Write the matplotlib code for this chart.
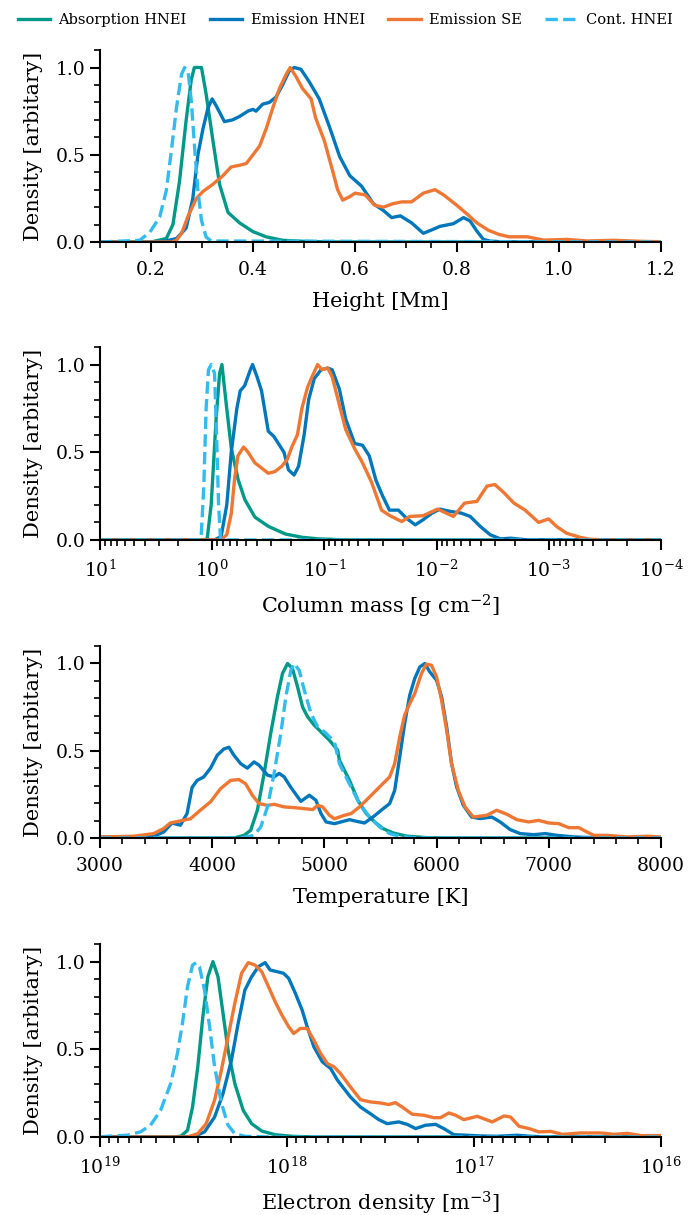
import numpy as np
import matplotlib.pyplot as plt
from matplotlib.ticker import MultipleLocator

plt.rcParams['font.family'] = ['DejaVu Serif']
plt.rcParams['mathtext.fontset'] = 'dejavuserif'

c_abs = '#009988'
c_emi = '#0077BB'
c_se = '#EE7733'
c_cont = '#33BBEE'

# ---- height [Mm] ----
h_abs_x = [0.10, 0.20, 0.230, 0.243, 0.256, 0.269, 0.279, 0.285, 0.299, 0.308, 0.3215, 0.3345, 0.351, 0.3736, 0.3997, 0.4257, 0.458, 0.50, 0.55, 1.2]
h_abs_y = [0, 0, 0.02, 0.10, 0.35, 0.70, 0.93, 1.0, 1.0, 0.85, 0.58, 0.33, 0.17, 0.11, 0.06, 0.03, 0.01, 0.004, 0, 0]
h_emi_x = [0.10, 0.22, 0.25, 0.269, 0.282, 0.292, 0.302, 0.312, 0.32, 0.328, 0.344, 0.36, 0.374, 0.39, 0.40, 0.406, 0.419, 0.432, 0.445, 0.458, 0.471, 0.481, 0.494, 0.51, 0.53, 0.55, 0.57, 0.59, 0.613, 0.636, 0.656, 0.672, 0.689, 0.711, 0.734, 0.751, 0.767, 0.793, 0.813, 0.826, 0.839, 0.852, 0.866, 0.90, 1.2]
h_emi_y = [0, 0, 0.02, 0.08, 0.25, 0.50, 0.65, 0.77, 0.82, 0.78, 0.69, 0.70, 0.72, 0.75, 0.76, 0.75, 0.79, 0.80, 0.83, 0.90, 0.98, 1.0, 0.99, 0.92, 0.82, 0.66, 0.49, 0.38, 0.32, 0.22, 0.18, 0.14, 0.15, 0.11, 0.05, 0.07, 0.09, 0.105, 0.14, 0.12, 0.063, 0.015, 0.005, 0, 0]
h_se_x = [0.10, 0.24, 0.25, 0.26, 0.273, 0.289, 0.302, 0.321, 0.341, 0.357, 0.374, 0.387, 0.40, 0.413, 0.426, 0.439, 0.452, 0.465, 0.473, 0.484, 0.497, 0.514, 0.523, 0.54, 0.556, 0.566, 0.576, 0.59, 0.60, 0.62, 0.639, 0.656, 0.675, 0.692, 0.711, 0.734, 0.757, 0.774, 0.80, 0.82, 0.839, 0.862, 0.882, 0.902, 0.938, 0.97, 1.016, 1.056, 1.108, 1.16, 1.2]
h_se_y = [0, 0, 0.01, 0.05, 0.15, 0.25, 0.29, 0.33, 0.38, 0.43, 0.44, 0.45, 0.50, 0.55, 0.65, 0.77, 0.88, 0.96, 1.0, 0.95, 0.88, 0.82, 0.71, 0.58, 0.41, 0.30, 0.24, 0.26, 0.28, 0.27, 0.21, 0.20, 0.22, 0.23, 0.23, 0.28, 0.30, 0.27, 0.21, 0.16, 0.11, 0.067, 0.044, 0.03, 0.03, 0.011, 0.015, 0.006, 0.01, 0.004, 0.002]
h_cont_x = [0.10, 0.178, 0.198, 0.217, 0.230, 0.240, 0.250, 0.260, 0.266, 0.273, 0.279, 0.286, 0.292, 0.299, 0.308, 0.318, 1.2]
h_cont_y = [0, 0.01, 0.057, 0.143, 0.295, 0.524, 0.771, 0.962, 1.0, 0.971, 0.81, 0.524, 0.295, 0.124, 0.029, 0.006, 0]

# ---- column mass, log10 [g cm^-2] ----
cm_abs_lg = [1, 0.1, 0.045, 0.009, -0.036, -0.066, -0.087, -0.126, -0.171, -0.231, -0.291, -0.381, -0.502, -0.652, -0.802, -0.952, -1.2, -4]
cm_abs_y = [0, 0, 0.004, 0.2, 0.7, 0.95, 1.0, 0.77, 0.52, 0.345, 0.23, 0.13, 0.077, 0.034, 0.015, 0.006, 0, 0]
cm_emi_lg = [1, -0.02, -0.08, -0.13, -0.17, -0.22, -0.25, -0.29, -0.34, -0.36, -0.40, -0.44, -0.50, -0.55, -0.59, -0.64, -0.68, -0.73, -0.77, -0.82, -0.86, -0.91, -0.97, -1.03, -1.07,
             -1.134, -1.19, -1.27, -1.34, -1.40, -1.46, -1.52, -1.58, -1.66, -1.73, -1.81, -1.88, -1.96, -2.03, -2.12, -2.22, -2.30, -2.39, -2.48, -2.57, -2.66, -2.78, -2.95, -4]
cm_emi_y = [0, 0, 0.02, 0.2, 0.5, 0.75, 0.85, 0.88, 0.97, 1.0, 0.93, 0.85, 0.62, 0.59, 0.55, 0.5, 0.4, 0.37, 0.42, 0.6, 0.8, 0.92, 0.97, 0.98, 0.97,
            0.86, 0.69, 0.55, 0.54, 0.48, 0.34, 0.25, 0.17, 0.17, 0.125, 0.086, 0.115, 0.153, 0.176, 0.163, 0.153, 0.134, 0.077, 0.029, 0.006, 0.01, 0.002, 0, 0]
cm_se_lg = [1, -0.08, -0.13, -0.17, -0.20, -0.23, -0.28, -0.32, -0.38, -0.44, -0.50, -0.56, -0.62, -0.67, -0.71, -0.76, -0.80, -0.85, -0.89, -0.94, -0.98, -1.03, -1.07,
            -1.134, -1.19, -1.27, -1.34, -1.42, -1.51, -1.58, -1.69, -1.76, -1.88, -2.01, -2.15, -2.25, -2.36, -2.45, -2.52, -2.60, -2.69, -2.79, -2.91, -3.0, -3.07, -3.16, -3.28, -3.37, -3.52, -4]
cm_se_y = [0, 0, 0.03, 0.15, 0.35, 0.48, 0.53, 0.5, 0.44, 0.41, 0.38, 0.39, 0.42, 0.46, 0.53, 0.6, 0.75, 0.87, 0.93, 1.0, 0.97, 0.98, 0.93,
           0.77, 0.63, 0.52, 0.44, 0.33, 0.17, 0.14, 0.105, 0.134, 0.138, 0.176, 0.134, 0.21, 0.22, 0.307, 0.316, 0.27, 0.21, 0.17, 0.1, 0.12, 0.077, 0.038, 0.015, 0.004, 0, 0]
cm_cont_lg = [1, 0.1, 0.075, 0.054, 0.033, 0.009, -0.021, -0.039, -0.057, -0.075, -4]
cm_cont_y = [0, 0, 0.3, 0.75, 0.97, 1.0, 0.95, 0.6, 0.2, 0, 0]

# ---- temperature [K] ----
t_abs_x = [3000, 4194, 4284, 4343, 4403, 4463, 4522, 4582, 4627, 4672, 4716, 4761, 4806, 4851, 4910, 4970, 5045, 5119, 5134, 5224, 5299, 5373, 5448, 5522, 5612, 5731, 5910, 6100, 8000]
t_abs_y = [0, 0, 0.015, 0.044, 0.16, 0.37, 0.6, 0.81, 0.943, 1.0, 0.97, 0.866, 0.75, 0.694, 0.646, 0.608, 0.56, 0.503, 0.446, 0.33, 0.216, 0.14, 0.092, 0.054, 0.029, 0.011, 0.002, 0, 0]
t_emi_x = [3000, 3299, 3478, 3567, 3642, 3716, 3776, 3821, 3866, 3925, 3985, 4045, 4104, 4149, 4194, 4254, 4313, 4373, 4418, 4493, 4552, 4597, 4642, 4701, 4791, 4866, 4925, 4970, 5015, 5090, 5149, 5224, 5284, 5358, 5433, 5507, 5582, 5627, 5672, 5716, 5761, 5806, 5851, 5896, 5940, 6000, 6045, 6090, 6134, 6179, 6239, 6313, 6388, 6493, 6567, 6657, 6746, 6866, 6970, 7075, 7224, 7403, 7550, 8000]
t_emi_y = [0.005, 0.005, 0.01, 0.034, 0.086, 0.073, 0.14, 0.29, 0.33, 0.35, 0.40, 0.474, 0.51, 0.52, 0.474, 0.426, 0.40, 0.436, 0.417, 0.36, 0.35, 0.37, 0.35, 0.29, 0.21, 0.245, 0.216, 0.14, 0.092, 0.082, 0.092, 0.105, 0.096, 0.086, 0.12, 0.159, 0.197, 0.273, 0.465, 0.656, 0.818, 0.914, 0.98, 1.0, 0.952, 0.904, 0.81, 0.637, 0.426, 0.293, 0.187, 0.12, 0.111, 0.12, 0.092, 0.048, 0.025, 0.019, 0.025, 0.015, 0.006, 0.002, 0, 0]
t_se_x = [3000, 3299, 3478, 3567, 3627, 3716, 3806, 3896, 3985, 4075, 4164, 4239, 4299, 4358, 4418, 4493, 4552, 4642, 4731, 4821, 4896, 4940, 4985, 5045, 5090, 5179, 5239, 5313, 5403, 5493, 5582, 5627, 5672, 5716, 5761, 5806, 5866, 5910, 5955, 6000, 6045, 6090, 6134, 6194, 6254, 6328, 6448, 6537, 6627, 6716, 6821, 6910, 7000, 7090, 7179, 7269, 7343, 7403, 7522, 7701, 7881, 8000]
t_se_y = [0.006, 0.01, 0.025, 0.054, 0.086, 0.098, 0.11, 0.16, 0.207, 0.283, 0.33, 0.335, 0.31, 0.245, 0.197, 0.187, 0.193, 0.178, 0.174, 0.168, 0.163, 0.187, 0.178, 0.13, 0.11, 0.13, 0.14, 0.178, 0.235, 0.293, 0.35, 0.426, 0.58, 0.704, 0.77, 0.828, 0.943, 0.996, 0.99, 0.924, 0.79, 0.618, 0.426, 0.273, 0.178, 0.12, 0.13, 0.159, 0.136, 0.105, 0.092, 0.101, 0.086, 0.082, 0.059, 0.059, 0.034, 0.015, 0.015, 0.006, 0.01, 0.006]
t_cont_x = [3000, 4254, 4373, 4433, 4493, 4552, 4612, 4657, 4701, 4731, 4776, 4821, 4881, 4940, 5015, 5090, 5134, 5224, 5313, 5403, 5493, 5582, 5672, 5791, 6000, 8000]
t_cont_y = [0, 0, 0.015, 0.063, 0.178, 0.37, 0.6, 0.81, 0.96, 1.0, 0.96, 0.847, 0.713, 0.637, 0.6, 0.55, 0.426, 0.31, 0.197, 0.12, 0.063, 0.025, 0.01, 0.002, 0, 0]

# ---- electron density, log10 [m^-3] ----
ne_abs_lg = [19, 18.62, 18.568, 18.532, 18.505, 18.477, 18.45, 18.423, 18.396, 18.369, 18.342, 18.315, 18.279, 18.234, 18.189, 18.135, 18.063, 17.973, 17.85, 16]
ne_abs_y = [0, 0, 0.004, 0.038, 0.171, 0.4, 0.686, 0.914, 1.0, 0.914, 0.705, 0.495, 0.305, 0.152, 0.076, 0.034, 0.013, 0.004, 0, 0]
ne_emi_lg = [19, 18.55, 18.495, 18.441, 18.387, 18.342, 18.297, 18.261, 18.225, 18.189, 18.153, 18.117, 18.09, 18.054, 18.018, 17.991, 17.955, 17.919, 17.892, 17.856, 17.811, 17.766, 17.73,
             17.661, 17.607, 17.554, 17.509, 17.464, 17.402, 17.357, 17.312, 17.259, 17.205, 17.161, 17.107, 17.036, 16.964, 16.875, 16.768, 16.696, 16.6, 16]
ne_emi_y = [0, 0, 0.004, 0.029, 0.114, 0.248, 0.438, 0.648, 0.838, 0.914, 0.971, 0.994, 0.952, 0.943, 0.933, 0.905, 0.819, 0.724, 0.629, 0.514, 0.429, 0.39, 0.324,
            0.229, 0.171, 0.133, 0.099, 0.076, 0.086, 0.072, 0.048, 0.067, 0.072, 0.048, 0.013, 0.01, 0.006, 0.004, 0.01, 0.004, 0, 0]
ne_se_lg = [19, 18.532, 18.477, 18.432, 18.387, 18.351, 18.315, 18.279, 18.243, 18.207, 18.171, 18.135, 18.099, 18.063, 18.027, 17.991, 17.964, 17.928, 17.892, 17.856, 17.82, 17.784, 17.748,
            17.714, 17.661, 17.607, 17.554, 17.5, 17.455, 17.42, 17.384, 17.33, 17.268, 17.214, 17.179, 17.134, 17.098, 17.054, 16.982, 16.902, 16.839, 16.804, 16.759, 16.705, 16.652, 16.589, 16.527, 16.429, 16.321, 16.25, 16.179, 16.107, 16.0]
ne_se_y = [0, 0, 0.019, 0.076, 0.21, 0.38, 0.571, 0.762, 0.933, 0.994, 0.98, 0.943, 0.857, 0.771, 0.695, 0.629, 0.59, 0.619, 0.619, 0.552, 0.476, 0.419, 0.4,
           0.362, 0.286, 0.213, 0.2, 0.194, 0.185, 0.196, 0.171, 0.13, 0.124, 0.11, 0.11, 0.137, 0.124, 0.099, 0.118, 0.086, 0.12, 0.114, 0.061, 0.048, 0.029, 0.032, 0.015, 0.023, 0.023, 0.015, 0.021, 0.008, 0.008]
ne_cont_lg = [19, 18.964, 18.856, 18.784, 18.73, 18.676, 18.622, 18.586, 18.559, 18.532, 18.505, 18.486, 18.468, 18.441, 18.414, 18.387, 18.35, 18.315, 18.279, 18.225, 18.1, 16]
ne_cont_y = [0, 0.004, 0.01, 0.029, 0.067, 0.152, 0.305, 0.476, 0.648, 0.857, 0.98, 0.994, 0.97, 0.838, 0.63, 0.4, 0.19, 0.067, 0.019, 0.004, 0, 0]

labels = ['Absorption HNEI', 'Emission HNEI', 'Emission SE', 'Cont. HNEI']

fig = plt.figure(figsize=(6.95, 12.15), dpi=100)
boxes = [(0.1439, 0.8008, 0.807, 0.158),
         (0.1439, 0.5556, 0.807, 0.1588),
         (0.1439, 0.3103, 0.807, 0.158),
         (0.1439, 0.0642, 0.807, 0.1588)]
axes = [fig.add_axes(b) for b in boxes]

lw = 2.4
panels = [
    (h_abs_x, h_abs_y, h_emi_x, h_emi_y, h_se_x, h_se_y, h_cont_x, h_cont_y, False),
    (cm_abs_lg, cm_abs_y, cm_emi_lg, cm_emi_y, cm_se_lg, cm_se_y, cm_cont_lg, cm_cont_y, True),
    (t_abs_x, t_abs_y, t_emi_x, t_emi_y, t_se_x, t_se_y, t_cont_x, t_cont_y, False),
    (ne_abs_lg, ne_abs_y, ne_emi_lg, ne_emi_y, ne_se_lg, ne_se_y, ne_cont_lg, ne_cont_y, True),
]
for ax, p in zip(axes, panels):
    xa, ya, xe, ye, xs, ys, xc, yc, islog = p
    if islog:
        xa, xe, xs, xc = [10.0 ** np.array(v) for v in (xa, xe, xs, xc)]
    ax.plot(xa, ya, color=c_abs, lw=lw, label=labels[0])
    ax.plot(xe, ye, color=c_emi, lw=lw, label=labels[1])
    ax.plot(xs, ys, color=c_se, lw=lw, label=labels[2])
    ax.plot(xc, yc, color=c_cont, lw=lw, ls='--', label=labels[3])
    ax.set_ylim(0, 1.1)
    ax.yaxis.set_major_locator(MultipleLocator(0.5))
    ax.yaxis.set_minor_locator(MultipleLocator(0.1))
    ax.set_ylabel('Density [arbitary]', fontsize=15, labelpad=9)
    for s in ['top', 'right']:
        ax.spines[s].set_visible(False)
    for s in ['left', 'bottom']:
        ax.spines[s].set_linewidth(1.5)
    ax.tick_params(which='major', length=7, width=1.5, labelsize=13.5)
    ax.tick_params(axis='x', which='major', pad=7)
    ax.tick_params(which='minor', length=4, width=1.2)

xl = dict(fontsize=15, labelpad=9)
ax1, ax2, ax3, ax4 = axes
ax1.set_xlim(0.1, 1.2)
ax1.xaxis.set_major_locator(MultipleLocator(0.2))
ax1.xaxis.set_minor_locator(MultipleLocator(0.05))
ax1.set_xlabel('Height [Mm]', **xl)

ax2.set_xscale('log')
ax2.set_xlim(10, 1e-4)
ax2.set_xlabel('Column mass [g cm$^{-2}$]', **xl)

ax3.set_xlim(3000, 8000)
ax3.xaxis.set_major_locator(MultipleLocator(1000))
ax3.xaxis.set_minor_locator(MultipleLocator(200))
ax3.set_xlabel('Temperature [K]', **xl)

ax4.set_xscale('log')
ax4.set_xlim(1e19, 1e16)
ax4.set_xlabel('Electron density [m$^{-3}$]', **xl)

handles, labs = ax1.get_legend_handles_labels()
fig.legend(handles, labs, loc='upper center', bbox_to_anchor=(0.497, 1.0), ncol=4,
           frameon=False, fontsize=10.5, handlelength=2.2, columnspacing=1.6, handletextpad=0.6)

plt.savefig('out.png', dpi=100)
